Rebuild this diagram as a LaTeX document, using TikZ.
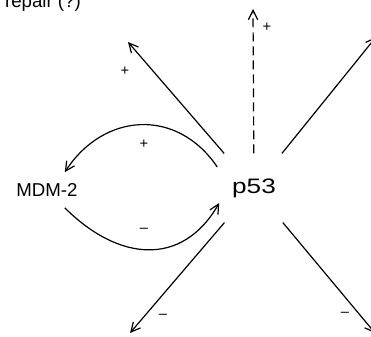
\documentclass[tikz,border=0pt]{standalone}
\usepackage{fontspec}
\setmainfont{Liberation Sans}
\usetikzlibrary{arrows.meta}

\begin{document}
\begin{tikzpicture}[x=0.75pt, y=-0.75pt, line width=0.9pt,
    barb/.style={-{Straight Barb[length=7pt,width=7pt]}},
    sign/.style={font=\fontsize{11}{11}\selectfont}]

\useasboundingbox (0,0) rectangle (371,336);

\node[anchor=base west, font=\fontsize{14}{14}\selectfont] at (0,7) (rep) {repair (?)};

\node[font=\fontsize{15.7}{16}\selectfont, xscale=1.25, inner sep=0pt,
      minimum width=36pt, minimum height=51pt] at (254,188) (p53) {p53};
\node[font=\fontsize{14}{14}\selectfont, inner sep=8pt] at (47,190) (mdm) {MDM-2};

\coordinate (ul) at (128,42);
\coordinate (up) at (253,9);
\coordinate (ur) at (376,37);
\coordinate (ll) at (130,333);
\coordinate (lr) at (375,333);

\draw[barb] (p53) -- (ul);
\draw[barb, dash pattern=on 6.75pt off 3.75pt] (p53) -- (up);
\draw[barb] (p53) -- (ur);
\draw[barb] (p53) -- (ll);
\draw[barb] (p53) -- (lr);

\draw[barb] ([shift={(-6,-21)}]p53.west) to[out=124, in=57, looseness=1.2] (mdm.45);
\draw[barb] (mdm.-45) to[out=-45, in=240, looseness=1.24] ([shift={(-4,15)}]p53.west);

\node[sign] at (125,71) (s1) {+};
\node[sign] at (267,27) (s2) {+};
\node[sign] at (144,144) (s3) {+};
\node[sign] at (144,230) (s4) {--};
\node[sign] at (163,316) (s5) {--};
\node[sign] at (345,314) (s6) {--};

\end{tikzpicture}
\end{document}
